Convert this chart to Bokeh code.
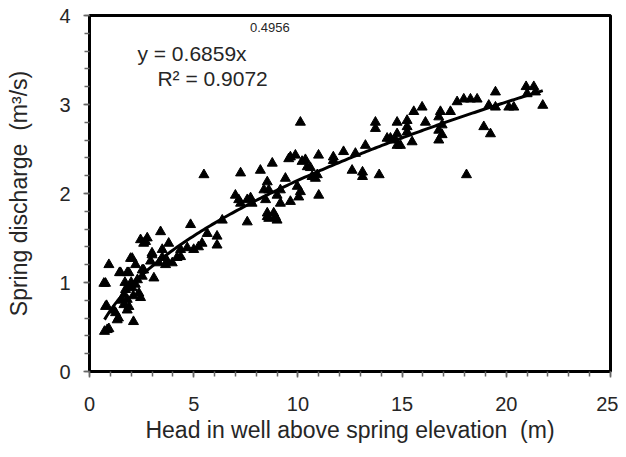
import numpy as np
from bokeh.plotting import figure
from bokeh.models import Range1d, Label, SingleIntervalTicker, ColumnDataSource
from bokeh.embed import file_html
from bokeh.resources import INLINE

# Observed data: head in well above spring elevation (m) vs spring discharge (m3/s)
head_m = [0.72, 0.85, 0.93, 0.77, 0.82, 0.69, 0.77, 0.93, 1.16, 1.25, 1.33, 1.39, 1.44, 1.49,
          1.65, 1.65, 1.73, 1.81, 1.81, 1.81, 1.89, 1.89, 1.97, 2.05, 2.05, 2.11, 2.21, 2.37,
          2.45, 2.45, 2.53, 2.53, 2.60, 2.60, 2.69, 2.77, 2.93, 3.00, 3.00,
          1.90, 2.00, 2.20, 2.30, 1.70, 2.10, 1.55,
          3.09, 3.33, 3.41, 3.49, 3.49, 3.65, 3.73, 3.80, 3.97, 4.20, 4.37, 4.37, 4.69, 4.85,
          5.00, 5.23, 5.40, 5.49, 5.65, 6.12, 6.12, 6.37, 7.00, 7.16, 7.25, 7.25, 7.57, 7.57,
          7.73, 7.80, 8.20, 8.37, 8.45, 8.53, 8.53, 8.53, 8.60, 8.60, 8.77, 8.84, 8.92, 9.00,
          9.00, 9.16, 9.16, 9.40, 9.56, 9.64, 9.64, 9.88, 9.97, 10.04, 10.12, 10.12, 10.20,
          10.36, 10.45, 10.60, 10.68, 10.84, 10.93, 10.99, 11.00, 11.70, 11.70, 12.19, 12.60,
          12.76, 13.10, 13.10, 13.24, 13.72, 13.72, 13.90, 14.28, 14.44, 14.68, 14.76, 14.76,
          14.76, 14.92, 15.24, 15.24, 15.24, 15.48, 15.56, 15.96, 16.12, 16.76, 16.76, 16.76,
          16.84, 16.92, 16.92, 17.32, 17.64, 17.96, 18.09, 18.28, 18.60, 18.92, 19.16, 19.24,
          19.48, 19.48, 20.12, 20.36, 20.95, 21.00, 21.32, 21.40, 21.75]
discharge_m3s = [0.45, 0.47, 0.48, 0.73, 0.74, 0.99, 0.99, 1.20, 0.69, 0.66, 0.58, 0.60, 1.11, 1.11,
                 0.75, 0.86, 0.92, 0.69, 0.81, 1.11, 0.73, 1.11, 1.27, 0.94, 1.27, 0.56, 1.20, 0.88,
                 0.83, 1.48, 1.07, 1.14, 1.14, 1.44, 1.46, 1.50, 1.24, 1.31, 1.33,
                 0.95, 1.00, 0.98, 1.03, 1.00, 0.85, 0.80,
                 1.05, 1.22, 1.57, 1.28, 1.37, 1.20, 1.24, 1.44, 1.22, 1.28, 1.29, 1.37, 1.39, 1.65,
                 1.37, 1.40, 1.44, 2.21, 1.55, 1.42, 1.52, 1.70, 1.98, 1.93, 1.89, 2.23, 1.68, 1.93,
                 1.95, 1.89, 2.26, 2.04, 1.93, 1.74, 1.78, 2.13, 1.72, 2.04, 2.34, 1.78, 1.74, 1.70,
                 1.98, 1.89, 2.04, 2.17, 2.39, 1.91, 2.41, 2.43, 2.08, 1.96, 2.02, 2.80, 2.36,
                 2.38, 2.30, 2.29, 2.19, 2.17, 2.21, 2.43, 1.98, 2.41, 2.37, 2.47, 2.26,
                 2.45, 2.24, 2.19, 2.54, 2.80, 2.73, 2.21, 2.62, 2.62, 2.60, 2.80, 2.67,
                 2.54, 2.54, 2.82, 2.75, 2.69, 2.58, 2.92, 2.97, 2.80, 2.86, 2.71, 2.60,
                 2.92, 2.77, 2.66, 2.92, 3.03, 3.06, 2.21, 3.06, 3.06, 2.75, 2.99, 2.67,
                 2.97, 3.14, 2.97, 2.97, 3.20, 3.12, 3.20, 3.14, 2.99]

# Power-law fit shown on the chart
fit_coef = 0.6859
fit_exp = 0.4956
fit_r2 = 0.9072
fit_x_min, fit_x_max = 0.72, 21.75

x_ticks = [0, 5, 10, 15, 20, 25]
y_ticks = [0, 1, 2, 3, 4]
x_title = "Head in well above spring elevation\u00a0 (m)"
y_title = "Spring discharge\u00a0 (m\u00b3/s)"

TXT = "#262626"
FONT = "Liberation Sans"

p = figure(width=618, height=449, output_backend="svg", toolbar_location=None,
           x_range=Range1d(0, 25), y_range=Range1d(0, 4),
           min_border_left=89, min_border_right=8, min_border_top=15, min_border_bottom=78)
p.background_fill_color = "white"
p.border_fill_color = "white"
p.outline_line_color = "black"
p.outline_line_width = 3
p.xgrid.visible = False
p.ygrid.visible = False

fx = np.linspace(fit_x_min, fit_x_max, 200)
fy = fit_coef * fx ** fit_exp
p.line(fx, fy, line_color="black", line_width=3)

src = ColumnDataSource(dict(x=head_m, y=discharge_m3s))
p.scatter("x", "y", source=src, marker="triangle", size=10, fill_color="black", line_color="black")

p.xaxis.ticker = SingleIntervalTicker(interval=5, num_minor_ticks=5)
p.yaxis.ticker = SingleIntervalTicker(interval=1, num_minor_ticks=5)

for ax in (p.xaxis[0], p.yaxis[0]):
    ax.axis_line_color = None
    ax.major_tick_line_color = "#666666"
    ax.minor_tick_line_color = "#666666"
    ax.major_tick_line_width = 1.5
    ax.minor_tick_line_width = 1.5
    ax.major_tick_in = 0
    ax.minor_tick_in = 0
    ax.major_tick_out = 6
    ax.minor_tick_out = 5
    ax.major_label_text_font = FONT
    ax.major_label_text_font_size = "20px"
    ax.major_label_text_color = TXT
    ax.axis_label_text_font = FONT
    ax.axis_label_text_font_style = "normal"
    ax.axis_label_text_color = TXT
    ax.axis_label_text_font_size = "23px"

p.xaxis.major_label_standoff = 19
p.xaxis.axis_label = x_title
p.xaxis.axis_label_standoff = 3

p.yaxis.major_label_standoff = 13
p.yaxis.axis_label = y_title
p.yaxis.axis_label_standoff = 24

# Equation annotation
p.add_layout(Label(x=2.30, y=3.575, text=f"y = {fit_coef}x", text_font=FONT,
                   text_font_size="21px", text_color=TXT, text_baseline="alphabetic"))
p.add_layout(Label(x=7.70, y=3.86, text=f"{fit_exp}", text_font=FONT,
                   text_font_size="13px", text_color=TXT, text_baseline="alphabetic"))
p.add_layout(Label(x=3.26, y=3.29, text=f"R\u00b2 = {fit_r2}", text_font=FONT,
                   text_font_size="21px", text_color=TXT, text_baseline="alphabetic"))

open("out.html", "w").write(file_html(p, INLINE))
